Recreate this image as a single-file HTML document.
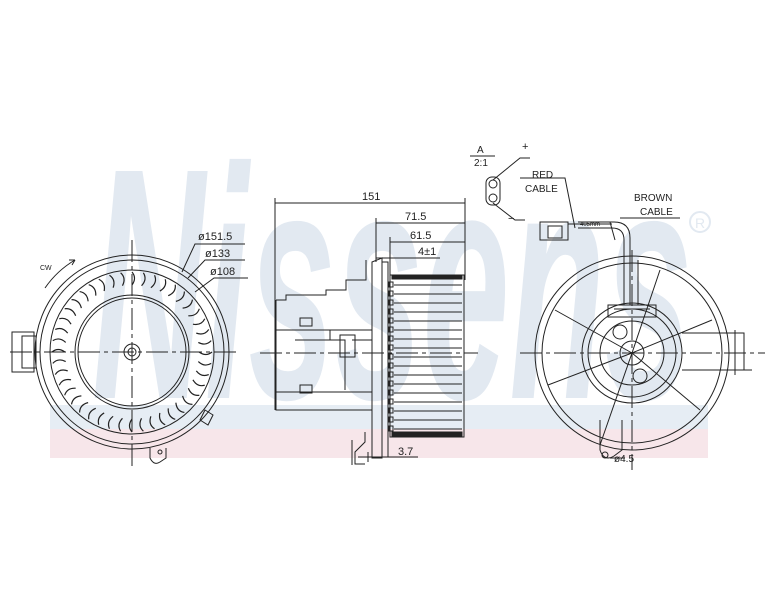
<!DOCTYPE html>
<html><head><meta charset="utf-8"><style>html,body{margin:0;padding:0;background:#fff}svg{display:block}</style></head>
<body>
<svg width="765" height="612" viewBox="0 0 765 612" xmlns="http://www.w3.org/2000/svg" font-family="Liberation Sans, sans-serif">
<!-- watermark -->
<rect x="50" y="405" width="658" height="24" fill="#e6edf4"/>
<rect x="50" y="429" width="658" height="29" fill="#f7e6ea"/>
<text x="92" y="398" font-size="330" font-style="italic" font-weight="bold" fill="#e2e9f1" textLength="600" lengthAdjust="spacingAndGlyphs">Nissens</text>
<circle cx="700" cy="222" r="10" fill="none" stroke="#e2e9f1" stroke-width="2"/>
<text x="700" y="228" font-size="14" fill="#e2e9f1" text-anchor="middle">R</text>

<g stroke="#222" fill="none" stroke-width="1">
<!-- LEFT VIEW -->
<circle cx="132" cy="352" r="97"/>
<circle cx="132" cy="352" r="92"/>
<circle cx="132" cy="352" r="82"/>
<circle cx="132" cy="352" r="57"/>
<circle cx="132" cy="352" r="54"/>
<circle cx="132" cy="352" r="8"/>
<circle cx="132" cy="352" r="4"/>
<g id="blades" stroke-width="1.2"></g>
<line x1="10" y1="352" x2="240" y2="352" stroke-dasharray="22 4 4 4"/>
<line x1="132" y1="240" x2="132" y2="470" stroke-dasharray="22 4 4 4"/>
<rect x="12" y="332" width="22" height="40"/>
<rect x="22" y="336" width="14" height="32"/>
<path d="M150 448 l0 10 q4 8 10 4 l6-4 l0-10"/>
<circle cx="160" cy="452" r="2"/>
<path d="M205 410 l8 5 l-5 10 l-8 -5z"/>
<path d="M45 288 a95 95 0 0 1 30-28" />
<path d="M75 260 l-6 0 M75 260 l-3 5"/>
<path d="M182 272 L195 244 L245 244 M188 278 L205 260 L245 260 M195 292 L214 278 L248 278"/>

<!-- MIDDLE VIEW -->
<line x1="275" y1="203" x2="465" y2="203"/>
<line x1="275" y1="198" x2="275" y2="410"/>
<line x1="465" y1="198" x2="465" y2="280"/>
<line x1="376" y1="223" x2="465" y2="223"/>
<line x1="376" y1="218" x2="376" y2="262"/>
<line x1="390" y1="242" x2="465" y2="242"/>
<line x1="390" y1="237" x2="390" y2="275"/>
<line x1="376" y1="258" x2="440" y2="258"/>
<rect x="390" y="275" width="74" height="162"/>
<rect x="392" y="275" width="70" height="4" fill="#222"/>
<rect x="392" y="432" width="70" height="4" fill="#222"/>
<g id="fanlines"></g>
<path d="M372 262 l10 -4 l0 200 l-10 0z"/>
<path d="M382 262 l6 0 l0 195 l-6 0"/>
<path d="M276 300 l0 110 l96 0 M276 300 l10 0 l0-5 l40 0 l0-5 l20 0 l0-10 l20 0 l0-20 M276 330 l96 0 M276 392 l96 0 M300 318 h12 v8 h-12z M300 385 h12 v8 h-12z M295 340 h50 v50 M330 340 v-10 M352 340 h20 M340 335 h15 v22 h-15z"/>
<path d="M365 432 l0 10 l-10 10 l0 12 l10 0 M352 440 l0 25"/>
<line x1="358" y1="457" x2="418" y2="457"/>
<line x1="368" y1="452" x2="368" y2="462"/>
<line x1="260" y1="353" x2="478" y2="353" stroke-dasharray="22 4 4 4"/>

<!-- RIGHT VIEW -->
<circle cx="632" cy="353" r="97"/>
<circle cx="632" cy="353" r="90"/>
<circle cx="632" cy="353" r="50"/>
<circle cx="632" cy="353" r="44"/>
<circle cx="632" cy="353" r="32"/>
<circle cx="632" cy="353" r="12"/>
<circle cx="620" cy="332" r="7"/>
<circle cx="640" cy="376" r="7"/>
<path d="M608 305 h48 v12 h-48z M614 309 h36"/>
<g>
<line x1="632" y1="353" x2="555" y2="310"/>
<line x1="632" y1="353" x2="712" y2="320"/>
<line x1="632" y1="353" x2="548" y2="385"/>
<line x1="632" y1="353" x2="700" y2="410"/>
<line x1="632" y1="353" x2="600" y2="445"/>
<line x1="632" y1="353" x2="660" y2="270"/>
</g>
<line x1="520" y1="353" x2="765" y2="353" stroke-dasharray="22 4 4 4"/>
<line x1="632" y1="250" x2="632" y2="470" stroke-dasharray="22 4 4 4"/>
<path d="M682 333 h62 v37 h-62 M744 333 v37 h8 M735 330 v45"/>
<path d="M600 420 l0 30 q4 12 14 6 l8-6 l0-30"/>
<circle cx="605" cy="455" r="3"/>
<line x1="610" y1="458" x2="625" y2="458"/>
<path d="M624 305 V240 q0-12 -12 -12 H578 M630 305 V238 q0-16 -16 -16 H578 M638 305 V260"/>
<rect x="540" y="222" width="28" height="18"/>
<rect x="548" y="226" width="14" height="12"/>
<line x1="568" y1="224" x2="612" y2="224"/>
<!-- detail A -->
<rect x="486" y="177" width="14" height="28" rx="6"/>
<circle cx="493" cy="184" r="4"/>
<circle cx="493" cy="198" r="4"/>
<path d="M493 180 L520 158 H530 M493 203 L515 220 H525"/>
<line x1="470" y1="156" x2="495" y2="156"/>
<path d="M520 178 H565 L575 228 M620 218 H680 M610 222 L615 240"/>
</g>
<g font-size="11" fill="#222">
<text x="198" y="240">ø151.5</text>
<text x="205" y="257">ø133</text>
<text x="210" y="275">ø108</text>
<text x="40" y="270" font-size="7">CW</text>
<text x="362" y="200">151</text>
<text x="405" y="220">71.5</text>
<text x="410" y="239">61.5</text>
<text x="418" y="255">4±1</text>
<text x="398" y="455">3.7</text>
<text x="477" y="153" font-size="10">A</text>
<text x="474" y="166" font-size="10">2:1</text>
<text x="522" y="150">+</text>
<text x="508" y="222">−</text>
<text x="532" y="178" font-size="10">RED</text>
<text x="525" y="192" font-size="10">CABLE</text>
<text x="634" y="201" font-size="10">BROWN</text>
<text x="640" y="215" font-size="10">CABLE</text>
<text x="580" y="226" font-size="6">405mm</text>
<text x="614" y="462" font-size="10">ø4.5</text>
</g>
<script>
(function(){var ns="http://www.w3.org/2000/svg",g=document.getElementById("blades");
for(var i=0;i<44;i++){var p=document.createElementNS(ns,"path");p.setAttribute("d","M132 272 q5 6 0 13");p.setAttribute("transform","rotate("+(i*360/44)+" 132 352)");g.appendChild(p);}
var f=document.getElementById("fanlines");
for(var y=285;y<432;y+=9){var l=document.createElementNS(ns,"line");l.setAttribute("x1",394);l.setAttribute("x2",462);l.setAttribute("y1",y);l.setAttribute("y2",y);f.appendChild(l);
var r=document.createElementNS(ns,"rect");r.setAttribute("x",389);r.setAttribute("y",y-3);r.setAttribute("width",4);r.setAttribute("height",5);f.appendChild(r);}
})();
</script>
</svg>
</body></html>
